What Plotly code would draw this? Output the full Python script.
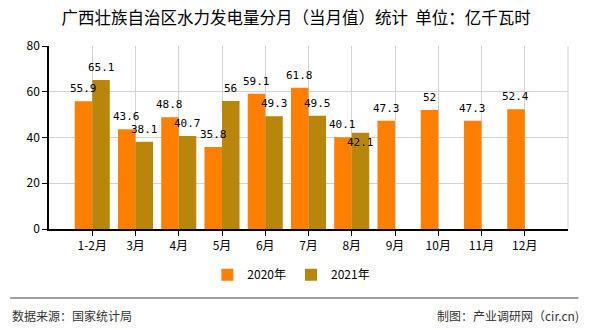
import plotly.graph_objects as go

categories = ["1-2月", "3月", "4月", "5月", "6月", "7月", "8月", "9月", "10月", "11月", "12月"]
values_2020 = [55.9, 43.6, 48.8, 35.8, 59.1, 61.8, 40.1, 47.3, 52, 47.3, 52.4]
values_2021 = [65.1, 38.1, 40.7, 56, 49.3, 49.5, 42.1]
series_names = ["2020年", "2021年"]
colors = ["#FF8000", "#B8860B"]
y_ticks = [0, 20, 40, 60, 80]

title = "广西壮族自治区水力发电量分月（当月值）统计  单位：亿千瓦时"
source = "数据来源：国家统计局"
credit = "制图：产业调研网（cir.cn)"

label_font = dict(family="DejaVu Sans Mono, monospace", size=11, color="#000000")

fig = go.Figure()
fig.add_trace(go.Bar(
    x=categories, y=values_2020, name=series_names[0],
    marker=dict(color=colors[0], line=dict(width=0)),
))
fig.add_trace(go.Bar(
    x=categories[:len(values_2021)], y=values_2021, name=series_names[1],
    marker=dict(color=colors[1], line=dict(width=0)),
))

BARGAP = 0.19
# plot width in px / number of category units -> half a bar in px
plot_w = 590 - 49 - 22
unit = plot_w / (len(categories) + 1)
half_bar = unit * (1 - BARGAP) / 4

# value labels (drawn on top, like the reference)
for i, v in enumerate(values_2020):
    fig.add_annotation(x=categories[i], y=v, text=f"{v:g}", showarrow=False,
                       xshift=-half_bar if i < len(values_2021) else -half_bar,
                       yanchor="bottom", yshift=4, font=label_font)
for i, v in enumerate(values_2021):
    other = values_2020[i]
    collide = (v > other) and (v - other) < 5
    if collide:
        fig.add_annotation(x=categories[i], y=v, text=f"{v:g}", showarrow=False,
                           xshift=half_bar, yanchor="top", yshift=-1, font=label_font)
    else:
        fig.add_annotation(x=categories[i], y=v, text=f"{v:g}", showarrow=False,
                           xshift=half_bar, yanchor="bottom", yshift=4, font=label_font)

fig.update_layout(
    width=590, height=330,
    margin=dict(l=49, r=22, t=46, b=101),
    paper_bgcolor="#FFFFFF", plot_bgcolor="#FFFFFF",
    barmode="group", bargap=BARGAP, bargroupgap=0,
    font=dict(family="Noto Sans CJK SC, sans-serif", size=12, color="#000000"),
    title=dict(text=title, x=0.502, xanchor="center", y=0.945, yanchor="middle",
               font=dict(family="Noto Sans CJK SC, sans-serif", size=16.5, color="#000000")),
    showlegend=True,
    legend=dict(orientation="h", x=0.467, xanchor="center", y=-0.25, yanchor="middle",
                font=dict(size=12, color="#000000"), itemwidth=30, traceorder="normal",
                tracegroupgap=0),
)

fig.update_xaxes(
    type="category", categoryorder="array", categoryarray=categories,
    range=[-1, len(categories)],
    showgrid=True, gridcolor="#D3D3D3", gridwidth=1,
    showline=True, linecolor="#000000", linewidth=1.5,
    ticks="outside", ticklen=5, tickcolor="#000000",
    tickfont=dict(size=12, color="#000000"),
    zeroline=False, fixedrange=True,
)
fig.update_yaxes(
    range=[0, 80], tickvals=y_ticks,
    showgrid=True, gridcolor="#D3D3D3", gridwidth=1,
    showline=True, linecolor="#000000", linewidth=1.5,
    ticks="outside", ticklen=5, tickcolor="#000000",
    tickfont=dict(size=12, color="#000000"),
    zeroline=False,
)

# right border gridline
fig.add_shape(type="line", xref="paper", yref="paper", x0=1, x1=1, y0=0, y1=1,
              line=dict(color="#D3D3D3", width=1))
# footer separator
fig.add_shape(type="line", xref="paper", yref="paper", x0=-0.075, x1=1.02,
              y0=-0.377, y1=-0.377, line=dict(color="#808080", width=1.5))
fig.add_annotation(text=source, xref="paper", yref="paper", x=-0.075, y=-0.47,
                   xanchor="left", yanchor="middle", showarrow=False,
                   font=dict(size=12, color="#333333"))
fig.add_annotation(text=credit, xref="paper", yref="paper", x=1.025, y=-0.47,
                   xanchor="right", yanchor="middle", showarrow=False,
                   font=dict(size=12, color="#333333"))

fig.write_html("out.html")
